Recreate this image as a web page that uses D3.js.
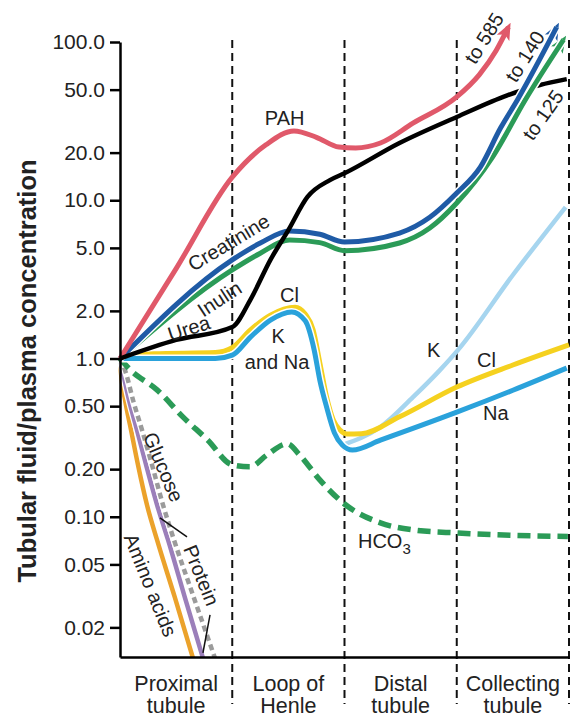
<!DOCTYPE html>
<html>
<head>
<meta charset="utf-8">
<script src="https://cdn.jsdelivr.net/npm/d3@7"></script>
<style>
    html, body { margin: 0; padding: 0; background: #fff; }
    svg { display: block; }
    text { font-family: "Liberation Sans", Arial, Helvetica, sans-serif; fill: #222; }
</style>
</head>
<body>
<svg id="chart" width="578" height="717"></svg>
<script>
// segments of the tubule, x runs 0..4 (one unit per segment)
var segmentNames = [["Proximal", "tubule"], ["Loop of", "Henle"], ["Distal", "tubule"], ["Collecting", "tubule"]];
var tickValues = [0.02, 0.05, 0.1, 0.2, 0.5, 1, 2, 5, 10, 20, 50, 100];
var tickLabels = ["0.02", "0.05", "0.10", "0.20", "0.50", "1.0", "2.0", "5.0", "10.0", "20.0", "50.0", "100.0"];
var yTitle = "Tubular fluid/plasma concentration";

// [position along tubule, TF/P concentration]
var pah = [[0, 1], [0.5, 3.7], [1, 14], [1.3, 22.4], [1.55, 27.4], [1.75, 25], [1.95, 21.7], [2.1, 21.4], [2.32, 23], [2.61, 30.7], [3, 45], [3.2, 62], [3.35, 88], [3.46, 124]];
var creatinine = [[0, 1], [1, 4.2], [1.25, 5.37], [1.51, 6.4], [1.78, 6.1], [2, 5.45], [2.49, 6.2], [2.76, 7.8], [3, 11.1], [3.21, 16.2], [3.39, 28.6], [3.54, 43], [3.89, 124]];
var inulin = [[0, 1], [1, 3.63], [1.25, 4.63], [1.51, 5.6], [1.78, 5.4], [2, 4.8], [2.49, 5.37], [2.76, 6.67], [3, 9.6], [3.32, 18.8], [3.61, 43], [3.95, 103]];
var urea = [[0, 1], [0.5, 1.31], [1, 1.58], [1.16, 2.34], [1.34, 4.2], [1.5, 6.48], [1.67, 10.5], [1.87, 13.4], [2, 14.8], [2.49, 23], [3, 33.6], [3.45, 46], [3.74, 53.5], [3.98, 58.3]];
var chloride = [[0, 1], [0.3, 1.07], [0.85, 1.09], [1, 1.17], [1.16, 1.51], [1.34, 1.88], [1.56, 2.11], [1.65, 1.91], [1.72, 1.52], [1.78, 0.94], [1.84, 0.572], [1.9, 0.409], [1.96, 0.353], [2.02, 0.334], [2.15, 0.335], [2.49, 0.428], [3, 0.66], [3.5, 0.91], [4, 1.22]];
var sodium = [[0, 1], [0.5, 1], [0.85, 1.0], [1, 1.05], [1.16, 1.36], [1.34, 1.75], [1.53, 1.97], [1.65, 1.73], [1.73, 1.13], [1.78, 0.73], [1.84, 0.495], [1.91, 0.339], [1.98, 0.284], [2.07, 0.264], [2.32, 0.305], [3, 0.458], [3.5, 0.63], [3.98, 0.87]];
var potassium = [[1.98, 0.284], [2.32, 0.369], [2.61, 0.57], [2.85, 0.845], [3.01, 1.13], [3.5, 3.37], [3.97, 9.06]];
var bicarbonate = [[0, 1], [0.09, 0.85], [0.33, 0.634], [0.56, 0.428], [0.78, 0.306], [1, 0.213], [1.16, 0.207], [1.31, 0.246], [1.49, 0.289], [1.6, 0.246], [1.78, 0.171], [1.99, 0.122], [2.32, 0.0915], [2.61, 0.0826], [3.01, 0.079], [3.99, 0.075]];
var glucose = [[0, 1], [0.027, 0.81], [0.08, 0.547], [0.151, 0.354], [0.232, 0.213], [0.33, 0.119], [0.428, 0.0714], [0.579, 0.0307], [0.739, 0.0128]];
var aminoAcids = [[0, 1], [0.009, 0.81], [0.045, 0.547], [0.098, 0.354], [0.16, 0.213], [0.24, 0.119], [0.33, 0.0714], [0.49, 0.0307], [0.65, 0.0128]];
var protein = [[0, 1], [0.053, 0.81], [0.116, 0.547], [0.196, 0.354], [0.285, 0.213], [0.383, 0.119], [0.481, 0.0714], [0.659, 0.0307], [0.846, 0.0128]];

var svg = d3.select('#chart');
var x = d3.scaleLinear().domain([0, 4]).range([120, 569]);
var y = d3.scaleLog().domain([0.013, 100]).range([657, 42]);

var line = d3.line()
    .x(function(d) { return x(d[0]); })
    .y(function(d) { return y(d[1]); })
    .curve(d3.curveMonotoneX);

var defs = svg.append('defs');
defs.append('clipPath').attr('id', 'plotClip')
    .append('rect').attr('x', 0).attr('y', 0).attr('width', 578).attr('height', 657);
defs.append('clipPath').attr('id', 'rightClip')
    .append('rect').attr('x', 500).attr('y', 0).attr('width', 78).attr('height', 200);

function addArrow(id, color) {
    defs.append('marker')
        .attr('id', id)
        .attr('markerUnits', 'userSpaceOnUse')
        .attr('viewBox', '0 -8 17 16')
        .attr('markerWidth', 17)
        .attr('markerHeight', 16)
        .attr('refX', 12)
        .attr('refY', 0)
        .attr('orient', 'auto')
        .append('path')
        .attr('d', 'M0,-7L17,0L0,7L4,0Z')
        .attr('fill', color);
}
addArrow('arrowRed', '#e0596a');
addArrow('arrowBlue', '#1f5ba6');
addArrow('arrowGreen', '#2b9b57');

function drawCurve(parent, data, color, width, opts) {
    opts = opts || {};
    if (opts.casing) {
        parent.append('path')
            .attr('d', line(data))
            .attr('fill', 'none')
            .attr('stroke', '#fff')
            .attr('stroke-width', width + opts.casing);
    }
    var p = parent.append('path')
        .attr('d', line(data))
        .attr('fill', 'none')
        .attr('stroke', color)
        .attr('stroke-width', width);
    if (opts.dash) p.attr('stroke-dasharray', opts.dash);
    if (opts.arrow) p.attr('marker-end', 'url(#' + opts.arrow + ')');
    return p;
}

// segment separators
[1, 2, 3, 4].forEach(function(u) {
    svg.append('line')
        .attr('x1', x(u)).attr('x2', x(u))
        .attr('y1', 40).attr('y2', 704)
        .attr('stroke', '#111')
        .attr('stroke-width', 2)
        .attr('stroke-dasharray', '8,5');
});

// reabsorbed almost fully in the proximal tubule
var lowGroup = svg.append('g').attr('clip-path', 'url(#plotClip)');
drawCurve(lowGroup, aminoAcids, '#eba22b', 4.5);
drawCurve(lowGroup, glucose, '#9b7fba', 4.5, {casing: 2.5});
drawCurve(lowGroup, protein, '#9b9b9b', 4.5, {casing: 2.5, dash: '6,4'});

drawCurve(svg, bicarbonate, '#2b9b57', 5.5, {dash: '13,7'});
drawCurve(svg, potassium, '#a6d5ef', 4.5);
drawCurve(svg, chloride, '#f5d11f', 5);
drawCurve(svg, sodium, '#2aa2db', 5, {casing: 3});
drawCurve(svg, inulin, '#2b9b57', 5, {arrow: 'arrowGreen'});
drawCurve(svg, creatinine, '#1f5ba6', 5, {casing: 3, arrow: 'arrowBlue'});
drawCurve(svg, pah, '#e0596a', 5, {arrow: 'arrowRed'});
drawCurve(svg, urea, '#000', 4.5);

// creatinine / inulin arrows pass over the urea line near the end
var topGroup = svg.append('g').attr('clip-path', 'url(#rightClip)');
drawCurve(topGroup, inulin, '#2b9b57', 5, {casing: 3});
drawCurve(topGroup, creatinine, '#1f5ba6', 5, {casing: 3});

// axes
var yAxis = d3.axisLeft(y)
    .tickValues(tickValues)
    .tickFormat(function(d, i) { return tickLabels[i]; })
    .tickSize(10)
    .tickSizeOuter(0)
    .tickPadding(5);
var gy = svg.append('g').attr('transform', 'translate(' + x(0) + ',0)').call(yAxis);
gy.select('.domain').attr('stroke', '#000').attr('stroke-width', 2.5);
gy.selectAll('.tick line').attr('stroke', '#000').attr('stroke-width', 2.5);
gy.selectAll('.tick text')
    .attr('fill', '#222')
    .style('font-size', '21px')
    .style('font-family', '"Liberation Sans", Arial, Helvetica, sans-serif');

var xAxis = d3.axisBottom(x).tickValues([]).tickSizeOuter(0);
var gx = svg.append('g').attr('transform', 'translate(0,' + y(0.013) + ')').call(xAxis);
gx.select('.domain').attr('stroke', '#000').attr('stroke-width', 2.5);

svg.append('text')
    .attr('transform', 'translate(36,371) rotate(-90)')
    .attr('text-anchor', 'middle')
    .style('font-size', '25.5px')
    .style('font-weight', 'bold')
    .text(yTitle);

segmentNames.forEach(function(lines, i) {
    lines.forEach(function(t, j) {
        svg.append('text')
            .attr('x', x(i + 0.5))
            .attr('y', 691 + j * 22)
            .attr('text-anchor', 'middle')
            .style('font-size', '21.5px')
            .text(t);
    });
});

// curve labels, placed in data units
var curveLabels = [
    {text: 'PAH', u: 1.29, v: 29.9, angle: 0, anchor: 'start'},
    {text: 'Creatinine', u: 1.0, v: 4.95, angle: -31, anchor: 'middle'},
    {text: 'Inulin', u: 0.921, v: 2.19, angle: -33, anchor: 'middle'},
    {text: 'Urea', u: 0.633, v: 1.41, angle: -18, anchor: 'middle'},
    {text: 'Cl', u: 1.425, v: 2.28, angle: 0, anchor: 'start'},
    {text: 'K', u: 1.408, v: 1.254, angle: 0, anchor: 'middle'},
    {text: 'and Na', u: 1.399, v: 0.86, angle: 0, anchor: 'middle'},
    {text: 'K', u: 2.735, v: 1.02, angle: 0, anchor: 'start'},
    {text: 'Cl', u: 3.18, v: 0.885, angle: 0, anchor: 'start'},
    {text: 'Na', u: 3.234, v: 0.409, angle: 0, anchor: 'start'},
    {text: 'to 585', u: 3.296, v: 100, angle: -58, anchor: 'middle'},
    {text: 'to 140', u: 3.66, v: 76.9, angle: -58, anchor: 'middle'},
    {text: 'to 125', u: 3.82, v: 32.6, angle: -55, anchor: 'middle'},
    {text: 'Glucose', u: 0.33, v: 0.198, angle: 67, anchor: 'middle'},
    {text: 'Amino acids', u: 0.214, v: 0.0356, angle: 68, anchor: 'middle'},
    {text: 'Protein', u: 0.668, v: 0.0411, angle: 68, anchor: 'middle'}
];
curveLabels.forEach(function(l) {
    svg.append('text')
        .attr('transform', 'translate(' + x(l.u) + ',' + y(l.v) + ') rotate(' + l.angle + ')')
        .attr('text-anchor', l.anchor)
        .style('font-size', '20px')
        .text(l.text);
});

var hco3 = svg.append('text')
    .attr('x', x(2.12))
    .attr('y', y(0.0636))
    .style('font-size', '20px')
    .text('HCO');
hco3.append('tspan')
    .attr('dy', 6)
    .style('font-size', '15px')
    .text('3');

// leader lines for the protein label
[[[0.356, 0.0984], [0.597, 0.0746]], [[0.802, 0.024], [0.739, 0.0138]]].forEach(function(seg) {
    svg.append('line')
        .attr('x1', x(seg[0][0])).attr('y1', y(seg[0][1]))
        .attr('x2', x(seg[1][0])).attr('y2', y(seg[1][1]))
        .attr('stroke', '#111')
        .attr('stroke-width', 1.5);
});
</script>
</body>
</html>
